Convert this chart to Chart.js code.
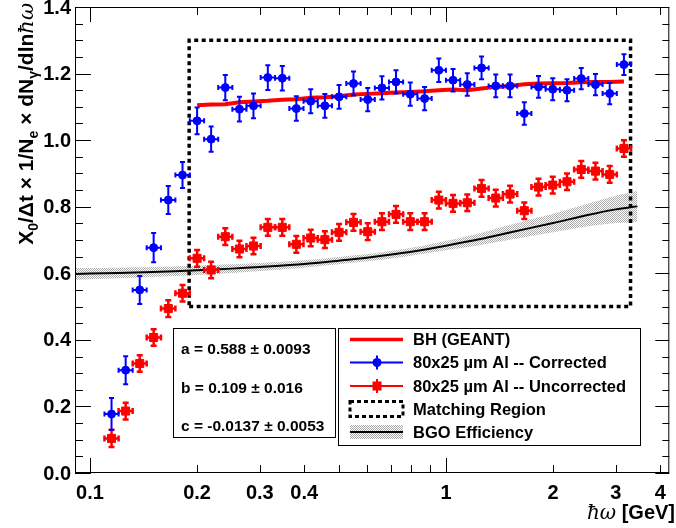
<!DOCTYPE html>
<html>
<head>
<meta charset="utf-8">
<script src="https://cdn.jsdelivr.net/npm/chart.js@4.4.1/dist/chart.umd.min.js"></script>
<style>
  html, body { margin: 0; padding: 0; background: #fff; }
  canvas { display: block; }
</style>
</head>
<body>
<canvas id="c" width="676" height="528"></canvas>
<script>
'use strict';

// ── Data ──────────────────────────────────────────────────
// photon energy bin centres [GeV]
const binX = [0.115, 0.126, 0.138, 0.151, 0.166, 0.182, 0.200, 0.219, 0.240, 0.263,
              0.288, 0.316, 0.347, 0.380, 0.417, 0.457, 0.501, 0.550, 0.603, 0.661,
              0.724, 0.794, 0.871, 0.955, 1.047, 1.148, 1.259, 1.380, 1.514, 1.660,
              1.820, 1.995, 2.188, 2.399, 2.630, 2.884, 3.162];

const corrY = [0.177, 0.309, 0.550, 0.677, 0.820, 0.895, 1.058, 1.003, 1.158, 1.093,
               1.103, 1.188, 1.186, 1.095, 1.117, 1.103, 1.130, 1.170, 1.122, 1.157,
               1.175, 1.138, 1.125, 1.210, 1.180, 1.167, 1.217, 1.163, 1.163, 1.080,
               1.160, 1.153, 1.150, 1.185, 1.167, 1.140, 1.227];
const corrErr = [0.048, 0.042, 0.042, 0.044, 0.042, 0.039, 0.040, 0.038, 0.038, 0.037,
                 0.037, 0.037, 0.037, 0.037, 0.036, 0.036, 0.036, 0.036, 0.035, 0.035,
                 0.035, 0.035, 0.035, 0.035, 0.034, 0.034, 0.034, 0.034, 0.034, 0.034,
                 0.033, 0.033, 0.033, 0.032, 0.032, 0.032, 0.031];

const uncorrY = [0.104, 0.186, 0.329, 0.407, 0.494, 0.540, 0.645, 0.610, 0.710, 0.673,
                 0.682, 0.738, 0.738, 0.687, 0.706, 0.701, 0.723, 0.753, 0.725, 0.755,
                 0.777, 0.755, 0.755, 0.820, 0.810, 0.812, 0.855, 0.826, 0.838, 0.788,
                 0.859, 0.865, 0.875, 0.912, 0.907, 0.897, 0.975];
const uncorrErr = [0.026, 0.025, 0.025, 0.025, 0.025, 0.025, 0.025, 0.025, 0.025, 0.025,
                   0.025, 0.025, 0.025, 0.025, 0.025, 0.025, 0.025, 0.025, 0.025, 0.025,
                   0.025, 0.025, 0.025, 0.025, 0.025, 0.025, 0.025, 0.025, 0.025, 0.025,
                   0.025, 0.025, 0.025, 0.025, 0.025, 0.025, 0.025];

// BH (GEANT) simulation, bins 6..36
const bhFirstBin = 6;
const bhY = [1.105, 1.107, 1.108, 1.114, 1.116, 1.118, 1.121, 1.123, 1.127, 1.129,
             1.132, 1.137, 1.139, 1.141, 1.143, 1.145, 1.147, 1.150, 1.152, 1.150,
             1.155, 1.160, 1.163, 1.168, 1.170, 1.171, 1.172, 1.174, 1.175, 1.175, 1.176];

// BGO efficiency curve and its band
const bgoX = [0.091, 0.1, 0.12, 0.15, 0.2, 0.25, 0.3, 0.4, 0.5, 0.6, 0.8, 1.0, 1.25, 1.5, 2.0, 2.5, 3.0, 3.45];
const bgoY = [0.598, 0.599, 0.601, 0.604, 0.609, 0.614, 0.619, 0.628, 0.638, 0.647, 0.665, 0.683, 0.703, 0.722, 0.751, 0.775, 0.792, 0.801];
const bgoErr = [0.018, 0.017, 0.016, 0.015, 0.014, 0.013, 0.012, 0.011, 0.011, 0.011, 0.012, 0.014, 0.018, 0.022, 0.028, 0.034, 0.041, 0.047];

// matching region
const matchX = [0.19, 3.3];
const matchY = [0.5, 1.3];

// axes
const xMin = 0.0908, xMax = 4.24;
const yMin = 0, yMax = 1.4;
const xTickVals = [0.1, 0.2, 0.3, 0.4, 0.5, 0.6, 0.7, 0.8, 0.9, 1, 2, 3, 4];
const xLabelVals = [0.1, 0.2, 0.3, 0.4, 1, 2, 3, 4];
const yLabelVals = [0, 0.2, 0.4, 0.6, 0.8, 1.0, 1.2, 1.4];
const fitLines = ['a = 0.588 \u00b1 0.0093', 'b = 0.109 \u00b1 0.016', 'c = -0.0137 \u00b1 0.0053'];
const legendLabels = ['BH (GEANT)', '80x25 \u00b5m Al -- Corrected', '80x25 \u00b5m Al -- Uncorrected',
                      'Matching Region', 'BGO Efficiency'];

// ── Helpers ───────────────────────────────────────────────
const FONT = "'Liberation Sans', Arial, Helvetica, sans-serif";
const SYM = "'DejaVu Serif', serif";
const BLUE = '#0000ff', RED = '#ff0000';

// bin edges (geometric midpoints between centres)
const binEdges = [];
for (let i = 1; i < binX.length; i++) binEdges[i] = Math.sqrt(binX[i - 1] * binX[i]);
binEdges[0] = binX[0] * binX[0] / binEdges[1];
binEdges[binX.length] = binX[binX.length - 1] ** 2 / binEdges[binX.length - 1];

const pts = (xs, ys) => ys.map((y, i) => ({ x: xs[i], y }));

// stipple pattern for the BGO band
function makeStipple() {
    const c = document.createElement('canvas');
    c.width = 2; c.height = 2;
    const g = c.getContext('2d');
    g.fillStyle = '#ababab';
    g.fillRect(0, 0, 1, 1);
    g.fillRect(1, 1, 1, 1);
    return g.createPattern(c, 'repeat');
}
const stipple = makeStipple();

// ── Plugins ───────────────────────────────────────────────
const errorBars = {
    id: 'errorBars',
    beforeDatasetDraw(chart, args) {
        const ds = chart.data.datasets[args.index];
        if (!ds.yErr) return;
        const { x, y } = chart.scales;
        const ctx = chart.ctx;
        const cap = ds.capSize;
        ctx.save();
        ctx.strokeStyle = ds.borderColor;
        ctx.lineWidth = ds.errWidth;
        ds.data.forEach((p, i) => {
            const px = x.getPixelForValue(p.x), py = y.getPixelForValue(p.y);
            const lo = x.getPixelForValue(binEdges[i]), hi = x.getPixelForValue(binEdges[i + 1]);
            const top = y.getPixelForValue(p.y + ds.yErr[i]), bot = y.getPixelForValue(p.y - ds.yErr[i]);
            ctx.beginPath();
            ctx.moveTo(lo, py); ctx.lineTo(hi, py);
            ctx.moveTo(px, top); ctx.lineTo(px, bot);
            ctx.moveTo(lo, py - cap); ctx.lineTo(lo, py + cap);
            ctx.moveTo(hi, py - cap); ctx.lineTo(hi, py + cap);
            ctx.moveTo(px - cap, top); ctx.lineTo(px + cap, top);
            ctx.moveTo(px - cap, bot); ctx.lineTo(px + cap, bot);
            ctx.stroke();
        });
        ctx.restore();
    }
};

const frameAndText = {
    id: 'frameAndText',
    afterDraw(chart) {
        const ctx = chart.ctx;
        const a = chart.chartArea;
        const { x, y } = chart.scales;
        ctx.save();

        // frame
        ctx.strokeStyle = '#000';
        ctx.lineWidth = 1;
        ctx.strokeRect(a.left + 0.5, a.top + 0.5, a.right - a.left - 1, a.bottom - a.top - 1);

        // y ticks (left & right, inward)
        ctx.beginPath();
        for (let k = 0; k <= 28; k++) {
            const v = k * 0.05;
            const py = Math.round(y.getPixelForValue(v)) + 0.5;
            const major = k % 4 === 0;
            ctx.moveTo(a.left, py); ctx.lineTo(a.left + (major ? 16 : 8), py);
            ctx.moveTo(a.right, py); ctx.lineTo(a.right - (major ? 14 : 7), py);
        }
        // x ticks (bottom & top, inward)
        xTickVals.forEach(v => {
            const px = Math.round(x.getPixelForValue(v)) + 0.5;
            const L = (v === 0.1 || v === 1) ? 15 : 8;
            ctx.moveTo(px, a.bottom); ctx.lineTo(px, a.bottom - L);
            ctx.moveTo(px, a.top); ctx.lineTo(px, a.top + L);
        });
        ctx.stroke();

        // tick labels
        ctx.fillStyle = '#000';
        ctx.font = `bold 20px ${FONT}`;
        ctx.textBaseline = 'middle';
        ctx.textAlign = 'right';
        yLabelVals.forEach(v => ctx.fillText(v.toFixed(1), a.left - 4, y.getPixelForValue(v) + 1));
        ctx.textAlign = 'center';
        xLabelVals.forEach(v => ctx.fillText(String(v), x.getPixelForValue(v), 493));

        // fit parameter box
        ctx.fillStyle = '#fff';
        ctx.fillRect(173, 328, 162, 109);
        ctx.strokeRect(173.5, 328.5, 162, 109);
        ctx.fillStyle = '#000';
        ctx.font = `bold 15.5px ${FONT}`;
        ctx.textAlign = 'left';
        [350, 389, 427].forEach((ty, i) => ctx.fillText(fitLines[i], 181, ty));

        // legend box
        ctx.fillStyle = '#fff';
        ctx.fillRect(338, 328, 302, 117);
        ctx.strokeRect(338.5, 328.5, 302, 117);
        const rows = [339.5, 362.5, 386, 409, 432];
        const sx0 = 350, sx1 = 403, sxm = 377;
        // BH
        ctx.strokeStyle = RED; ctx.lineWidth = 3.5;
        ctx.beginPath(); ctx.moveTo(sx0, rows[0]); ctx.lineTo(sx1, rows[0]); ctx.stroke();
        // corrected
        ctx.strokeStyle = BLUE; ctx.lineWidth = 2;
        ctx.beginPath(); ctx.moveTo(sx0, rows[1]); ctx.lineTo(sx1, rows[1]);
        ctx.moveTo(sxm, rows[1] - 7); ctx.lineTo(sxm, rows[1] + 7); ctx.stroke();
        ctx.fillStyle = BLUE;
        ctx.beginPath(); ctx.arc(sxm, rows[1], 4.5, 0, Math.PI * 2); ctx.fill();
        // uncorrected
        ctx.strokeStyle = RED; ctx.lineWidth = 2;
        ctx.beginPath(); ctx.moveTo(sx0, rows[2]); ctx.lineTo(sx1, rows[2]);
        ctx.moveTo(sxm, rows[2] - 7); ctx.lineTo(sxm, rows[2] + 7); ctx.stroke();
        ctx.fillStyle = RED;
        ctx.fillRect(sxm - 4.5, rows[2] - 4.5, 9, 9);
        // matching region
        ctx.strokeStyle = '#000'; ctx.lineWidth = 3; ctx.setLineDash([4, 3]);
        ctx.strokeRect(sx0, rows[3] - 7.5, sx1 - sx0, 15);
        ctx.setLineDash([]);
        // BGO
        ctx.fillStyle = stipple;
        ctx.fillRect(sx0, rows[4] - 7, sx1 - sx0, 14);
        ctx.strokeStyle = '#000'; ctx.lineWidth = 2;
        ctx.beginPath(); ctx.moveTo(sx0, rows[4]); ctx.lineTo(sx1, rows[4]); ctx.stroke();

        ctx.fillStyle = '#000';
        ctx.font = `bold 16.5px ${FONT}`;
        legendLabels.forEach((t, i) => ctx.fillText(t, 413, rows[i] + 1));

        // x title
        ctx.textAlign = 'right';
        ctx.textBaseline = 'alphabetic';
        ctx.font = `bold 20px ${FONT}`;
        const tail = ' [GeV]';
        const tw = ctx.measureText(tail).width;
        ctx.fillText(tail, 675, 519);
        ctx.font = `italic 20px ${SYM}`;
        ctx.fillText('\u0127\u03c9', 675 - tw, 519);

        // y title (rotated, right-aligned to the top)
        const parts = [
            ['X', 0], ['0', 1], ['/\u0394t \u00d7 1/N', 0], ['e', 1], [' \u00d7 dN', 0],
            ['\u03b3', 1], ['/dln', 0], ['\u0127\u03c9', 2]
        ];
        const fontFor = k => k === 1 ? `bold 14px ${FONT}` : k === 2 ? `italic 21px ${SYM}` : `bold 21px ${FONT}`;
        let total = 0;
        parts.forEach(([t, k]) => { ctx.font = fontFor(k); total += ctx.measureText(t).width; });
        ctx.translate(33, 3);
        ctx.rotate(-Math.PI / 2);
        ctx.textAlign = 'left';
        let u = -total;
        parts.forEach(([t, k]) => {
            ctx.font = fontFor(k);
            ctx.fillText(t, u, k === 1 ? 5 : 0);
            u += ctx.measureText(t).width;
        });

        ctx.restore();
    }
};

// ── Chart ─────────────────────────────────────────────────
const chart = new Chart(document.getElementById('c'), {
    type: 'scatter',
    data: {
        datasets: [
            {
                label: 'Corrected',
                data: pts(binX, corrY),
                yErr: corrErr, errWidth: 2, capSize: 2.5,
                borderColor: BLUE, backgroundColor: BLUE,
                pointStyle: 'circle', pointRadius: 4, pointBorderWidth: 1,
                showLine: false,
            },
            {
                label: 'Uncorrected',
                data: pts(binX, uncorrY),
                yErr: uncorrErr, errWidth: 2.5, capSize: 3,
                borderColor: RED, backgroundColor: RED,
                pointStyle: 'rect', pointRadius: 5.7, pointBorderWidth: 1,
                showLine: false,
            },
            {
                label: 'BH (GEANT)',
                data: pts(binX.slice(bhFirstBin), bhY),
                borderColor: RED, borderWidth: 4,
                showLine: true, pointRadius: 0, tension: 0,
            },
            {
                label: 'Matching Region',
                data: [
                    { x: matchX[0], y: matchY[0] }, { x: matchX[1], y: matchY[0] },
                    { x: matchX[1], y: matchY[1] }, { x: matchX[0], y: matchY[1] },
                    { x: matchX[0], y: matchY[0] },
                ],
                borderColor: '#000', borderWidth: 3.5, borderDash: [4, 3.5],
                showLine: true, pointRadius: 0, tension: 0,
            },
            {
                label: 'BGO Efficiency',
                data: pts(bgoX, bgoY),
                borderColor: '#000', borderWidth: 2,
                showLine: true, pointRadius: 0, tension: 0.3,
            },
            {
                label: 'BGO band hi',
                data: pts(bgoX, bgoY.map((v, i) => v + bgoErr[i])),
                borderWidth: 0, borderColor: 'rgba(0,0,0,0)',
                backgroundColor: stipple, fill: '+1',
                showLine: true, pointRadius: 0, tension: 0.3,
            },
            {
                label: 'BGO band lo',
                data: pts(bgoX, bgoY.map((v, i) => v - bgoErr[i])),
                borderWidth: 0, borderColor: 'rgba(0,0,0,0)',
                showLine: true, pointRadius: 0, tension: 0.3,
            },
        ],
    },
    options: {
        responsive: false,
        animation: false,
        devicePixelRatio: 1,
        layout: { padding: { left: 0, top: 7, right: 1, bottom: 0 } },
        plugins: { legend: { display: false }, tooltip: { enabled: false } },
        scales: {
            x: {
                type: 'logarithmic',
                min: xMin, max: xMax,
                grid: { display: false, drawTicks: false },
                border: { display: false },
                ticks: { display: false },
                afterFit: s => { s.height = 55; s.paddingLeft = 0; s.paddingRight = 0; },
            },
            y: {
                min: yMin, max: yMax,
                grid: { display: false, drawTicks: false },
                border: { display: false },
                ticks: { display: false },
                afterFit: s => { s.width = 75; s.paddingTop = 0; s.paddingBottom = 0; },
            },
        },
    },
    plugins: [errorBars, frameAndText],
});
</script>
</body>
</html>
